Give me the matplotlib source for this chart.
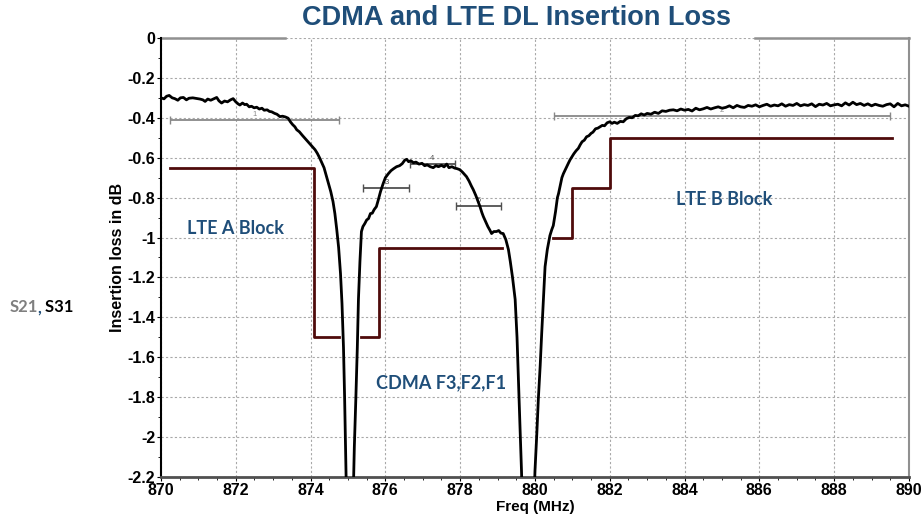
import matplotlib
matplotlib.use("Agg")
import matplotlib.pyplot as plt
from matplotlib.ticker import MultipleLocator, FuncFormatter

plt.rcParams['font.family'] = ['Liberation Sans', 'DejaVu Sans']
plt.rcParams['font.weight'] = 'bold'

# measured S21 trace (MHz, dB)
freq = [870.00, 870.08, 870.15, 870.22, 870.30, 870.37, 870.45, 870.52, 870.60, 870.68,
        870.75, 870.85, 870.95, 871.04, 871.12, 871.18, 871.25, 871.33, 871.42, 871.49,
        871.55, 871.62, 871.70, 871.78, 871.86, 871.93, 872.00, 872.06, 872.11, 872.18,
        872.24, 872.29, 872.36, 872.42, 872.49, 872.56, 872.63, 872.70, 872.76, 872.84,
        872.90, 872.96, 873.04, 873.10, 873.18, 873.25, 873.33, 873.40, 873.46, 873.52,
        873.58, 873.63, 873.70, 873.78, 873.86, 873.94, 874.00, 874.06, 874.12, 874.18,
        874.24, 874.30, 874.36, 874.42, 874.48, 874.54, 874.60, 874.65, 874.70, 874.75,
        874.80, 874.84, 874.88, 874.91, 874.94, 874.97, 875.00, 875.05, 875.10, 875.14,
        875.17, 875.21, 875.25, 875.28, 875.32, 875.36, 875.40, 875.45, 875.50, 875.55,
        875.60, 875.65, 875.70, 875.76, 875.81, 875.87, 875.94, 876.00, 876.08, 876.15,
        876.22, 876.30, 876.38, 876.45, 876.52, 876.57, 876.62, 876.68, 876.75, 876.82,
        876.90, 876.98, 877.05, 877.12, 877.20, 877.28, 877.35, 877.42, 877.50, 877.57,
        877.64, 877.70, 877.78, 877.85, 877.92, 877.99, 878.06, 878.12, 878.17, 878.24,
        878.30, 878.35, 878.42, 878.48, 878.53, 878.58, 878.62, 878.68, 878.74, 878.80,
        878.84, 878.90, 878.97, 879.03, 879.09, 879.15, 879.22, 879.29, 879.34, 879.40,
        879.47, 879.52, 879.56, 879.60, 879.64, 879.70, 879.80, 879.90, 879.97, 880.00,
        880.05, 880.09, 880.14, 880.18, 880.23, 880.27, 880.33, 880.40, 880.45, 880.49,
        880.55, 880.60, 880.63, 880.68, 880.72, 880.76, 880.81, 880.86, 880.90, 880.94,
        880.99, 881.04, 881.10, 881.16, 881.21, 881.26, 881.32, 881.38, 881.44, 881.50,
        881.55, 881.62, 881.68, 881.74, 881.80, 881.86, 881.93, 882.00, 882.06, 882.12,
        882.20, 882.28, 882.36, 882.44, 882.52, 882.60, 882.68, 882.76, 882.84, 882.92,
        883.00, 883.10, 883.20, 883.30, 883.40, 883.50, 883.60, 883.70, 883.80, 883.90,
        884.00, 884.10, 884.20, 884.30, 884.40, 884.50, 884.60, 884.70, 884.80, 884.90,
        885.00, 885.10, 885.20, 885.30, 885.40, 885.50, 885.60, 885.70, 885.80, 885.90,
        886.00, 886.10, 886.20, 886.30, 886.40, 886.50, 886.60, 886.70, 886.80, 886.90,
        887.00, 887.10, 887.20, 887.30, 887.40, 887.50, 887.60, 887.70, 887.80, 887.90,
        888.00, 888.10, 888.20, 888.30, 888.40, 888.50, 888.60, 888.70, 888.80, 888.90,
        889.00, 889.10, 889.20, 889.30, 889.40, 889.50, 889.60, 889.70, 889.80, 889.90,
        890.00]
loss = [-0.300, -0.305, -0.292, -0.288, -0.300, -0.304, -0.312, -0.300, -0.298, -0.310,
        -0.302, -0.300, -0.303, -0.306, -0.310, -0.318, -0.306, -0.312, -0.304, -0.298,
        -0.315, -0.326, -0.316, -0.320, -0.310, -0.304, -0.320, -0.330, -0.336, -0.326,
        -0.334, -0.332, -0.345, -0.342, -0.350, -0.347, -0.356, -0.352, -0.362, -0.360,
        -0.368, -0.370, -0.378, -0.382, -0.394, -0.392, -0.396, -0.402, -0.420, -0.434,
        -0.445, -0.460, -0.470, -0.488, -0.505, -0.522, -0.535, -0.548, -0.560, -0.578,
        -0.600, -0.625, -0.650, -0.690, -0.730, -0.770, -0.820, -0.880, -0.960, -1.050,
        -1.180, -1.330, -1.550, -1.800, -2.100, -2.400, -2.800, -3.000, -2.800, -2.300,
        -2.050, -1.810, -1.550, -1.310, -1.120, -0.970, -0.945, -0.930, -0.912, -0.905,
        -0.880, -0.878, -0.860, -0.845, -0.812, -0.770, -0.730, -0.700, -0.680, -0.665,
        -0.655, -0.645, -0.640, -0.630, -0.612, -0.608, -0.620, -0.615, -0.625, -0.622,
        -0.632, -0.628, -0.640, -0.636, -0.645, -0.650, -0.640, -0.645, -0.638, -0.646,
        -0.632, -0.650, -0.645, -0.652, -0.655, -0.660, -0.672, -0.685, -0.695, -0.718,
        -0.742, -0.760, -0.790, -0.820, -0.845, -0.875, -0.895, -0.920, -0.945, -0.965,
        -0.980, -0.970, -0.970, -0.965, -0.978, -0.980, -1.010, -1.060, -1.120, -1.200,
        -1.310, -1.500, -1.730, -1.950, -2.170, -2.600, -3.000, -2.700, -2.350, -2.170,
        -1.980, -1.810, -1.640, -1.480, -1.300, -1.146, -1.060, -0.990, -0.960, -0.940,
        -0.870, -0.800, -0.780, -0.735, -0.700, -0.680, -0.660, -0.640, -0.625, -0.610,
        -0.595, -0.580, -0.565, -0.553, -0.535, -0.520, -0.512, -0.495, -0.490, -0.478,
        -0.472, -0.455, -0.452, -0.445, -0.438, -0.440, -0.425, -0.420, -0.428, -0.422,
        -0.428, -0.418, -0.420, -0.405, -0.398, -0.400, -0.388, -0.390, -0.380, -0.386,
        -0.378, -0.382, -0.372, -0.378, -0.365, -0.368, -0.362, -0.360, -0.365, -0.356,
        -0.362, -0.358, -0.366, -0.352, -0.360, -0.355, -0.348, -0.356, -0.350, -0.345,
        -0.352, -0.348, -0.340, -0.350, -0.338, -0.345, -0.348, -0.338, -0.342, -0.335,
        -0.345, -0.338, -0.332, -0.342, -0.336, -0.340, -0.330, -0.342, -0.334, -0.338,
        -0.328, -0.340, -0.334, -0.338, -0.330, -0.344, -0.332, -0.336, -0.328, -0.340,
        -0.335, -0.332, -0.340, -0.325, -0.336, -0.322, -0.334, -0.328, -0.338, -0.330,
        -0.340, -0.332, -0.338, -0.342, -0.334, -0.330, -0.345, -0.328, -0.340, -0.335,
        -0.342]

# spec masks
lte_a_f = [870.24, 874.10, 874.10, 874.77]
lte_a_db = [-0.65, -0.65, -1.5, -1.5]
cdma_f = [875.34, 875.83, 875.83, 879.13]
cdma_db = [-1.5, -1.5, -1.05, -1.05]
lte_b_f = [880.49, 881.0, 881.0, 882.0, 882.0, 889.54]
lte_b_db = [-1.0, -1.0, -0.75, -0.75, -0.5, -0.5]

# markers (bandwidth bars)
marker_names = ['1', '2', '3', '4', '5']
marker_lo = [870.24, 880.50, 875.41, 876.66, 877.88]
marker_hi = [874.76, 889.50, 876.64, 877.86, 879.10]
marker_db = [-0.41, -0.39, -0.75, -0.63, -0.84]

blue = '#1F4E79'
maroon = '#4F0B0B'

fig = plt.figure(figsize=(9.23, 5.16), dpi=100)
ax = fig.add_axes([0.1744, 0.0756, 0.8104, 0.8508])

ax.set_xlim(870, 890)
ax.set_ylim(-2.2, 0)
ax.xaxis.set_major_locator(MultipleLocator(2))
ax.xaxis.set_minor_locator(MultipleLocator(0.5))
ax.yaxis.set_major_locator(MultipleLocator(0.2))
ax.yaxis.set_minor_locator(MultipleLocator(0.1))
ax.yaxis.set_major_formatter(FuncFormatter(lambda v, p: '%g' % round(v, 2)))
ax.grid(True, which='major', color='#a8a8a8', linestyle=(0, (2, 2)), linewidth=0.8)

ax.tick_params(axis='both', which='major', labelsize=11.5, length=3, width=0.8, pad=1)
ax.tick_params(axis='both', which='minor', length=2, width=0.6)

ax.spines['top'].set_visible(False)
ax.spines['left'].set_color('black')
ax.spines['left'].set_linewidth(1.5)
ax.spines['bottom'].set_color('#505050')
ax.spines['bottom'].set_linewidth(2.0)
ax.spines['right'].set_color('#909090')
ax.spines['right'].set_linewidth(1.5)
# top frame is hidden behind the title box in the middle
ax.plot([0, 0.166], [1, 1], transform=ax.transAxes, color='#909090', lw=1.8, clip_on=False)
ax.plot([0.794, 1], [1, 1], transform=ax.transAxes, color='#909090', lw=1.8, clip_on=False)

# masks
ax.plot(lte_a_f, lte_a_db, color=maroon, lw=2.0, zorder=3)
ax.plot(cdma_f, cdma_db, color=maroon, lw=2.0, zorder=3)
ax.plot(lte_b_f, lte_b_db, color=maroon, lw=2.0, zorder=3)

# markers
for i, name in enumerate(marker_names):
    c = '#888888' if i < 2 else '#505050'
    mid = (marker_lo[i] + marker_hi[i]) / 2
    half = (marker_hi[i] - marker_lo[i]) / 2
    ax.errorbar(mid, marker_db[i], xerr=half, fmt='none', ecolor=c, elinewidth=1.3,
                capsize=3, capthick=1.0, zorder=2)
    ax.annotate(name, (mid, marker_db[i]), xytext=(0, 4), textcoords='offset points',
                ha='center', va='center', fontsize=5.5, fontweight='normal', color=c,
                zorder=2)

# trace
ax.plot(freq, loss, color='black', lw=2.0, zorder=4)

# labels
ax.text(872.0, -0.955, 'LTE A Block', color=blue, fontsize=13, fontweight='bold',
        family='Lato', ha='center', va='center')
ax.text(877.5, -1.73, 'CDMA F3,F2,F1', color=blue, fontsize=13, fontweight='bold',
        family='Lato', ha='center', va='center')
ax.text(885.05, -0.81, 'LTE B Block', color=blue, fontsize=13, fontweight='bold',
        family='Lato', ha='center', va='center')

ax.set_ylabel('Insertion loss in dB', fontsize=11.5, fontweight='bold')
ax.yaxis.set_label_coords(-0.048, 0.5)
ax.set_xlabel('Freq (MHz)', fontsize=11, fontweight='bold')
ax.xaxis.set_label_coords(0.5, -0.052)

fig.text(0.5596, 0.965, 'CDMA and LTE DL Insertion Loss', color=blue, fontsize=19.5,
         fontweight='bold', ha='center', va='center')

t1 = fig.text(0.01, 0.395, 'S21', color='#7f7f7f', fontsize=12, fontweight='bold',
              family='Lato', va='baseline')
t2 = ax.annotate(',', xy=(1, 0), xycoords=t1, color=blue, fontsize=12, fontweight='bold',
                 family='Lato', va='bottom', annotation_clip=False)
t3 = ax.annotate(' S31', xy=(1, 0), xycoords=t2, color='black', fontsize=12,
                 fontweight='bold', family='Lato', va='bottom', annotation_clip=False)

fig.savefig('out.png', dpi=100)
